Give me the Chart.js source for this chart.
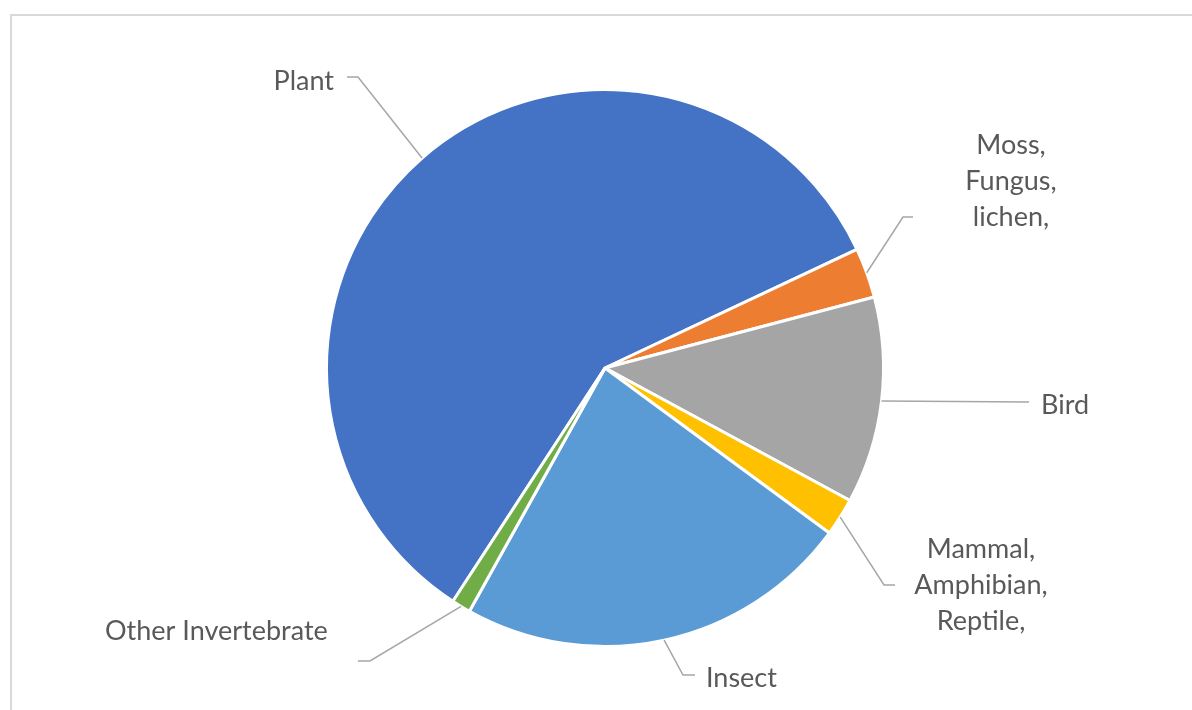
<!DOCTYPE html>
<html>
<head>
<meta charset="utf-8">
<script src="https://cdn.jsdelivr.net/npm/chart.js@4/dist/chart.umd.min.js"></script>
<style>
  html, body { margin: 0; padding: 0; background: #fff; overflow: hidden; }
  .frame {
    position: absolute; left: 10px; top: 14px;
    width: 1300px; height: 800px;
    border: 2px solid #d9d9d9;
  }
  .wrap { position: absolute; left: 0; top: 0; width: 1192px; height: 710px; }
</style>
</head>
<body>
<div class="frame"></div>
<div class="wrap"><canvas id="pie"></canvas></div>
<script>
"use strict";

// categories + values (share of records, %)
const categories = [
  ["Plant"],
  ["Moss,", "Fungus,", "lichen,"],
  ["Bird"],
  ["Mammal,", "Amphibian,", "Reptile,"],
  ["Insect"],
  ["Other Invertebrate"],
];
const values = [58.8, 2.9, 12.0, 2.2, 23.0, 1.1];
const colors = ["#4472C4", "#ED7D31", "#A5A5A5", "#FFC000", "#5B9BD5", "#70AD47"];

// where each label sits (leader elbow, leader end, text anchor)
const labelLayout = [
  { elbow: [358, 77], end: [347, 77], tx: 334, ty: 90, align: "right" },
  { elbow: [903, 217], end: [913, 217], tx: 1011, ty: 154, align: "center" },
  { elbow: [1029, 402], end: [1029, 402], tx: 1041, ty: 414, align: "left" },
  { elbow: [884, 585], end: [895, 585], tx: 981, ty: 558, align: "center" },
  { elbow: [683, 675], end: [695, 675], tx: 706, ty: 687, align: "left" },
  { elbow: [370, 661], end: [358, 661], tx: 105, ty: 640, align: "left" },
];

const leaderLabels = {
  id: "leaderLabels",
  afterDatasetsDraw(chart) {
    const ctx = chart.ctx;
    const arcs = chart.getDatasetMeta(0).data;
    ctx.save();
    arcs.forEach((arc, i) => {
      const lay = labelLayout[i];
      const mid = (arc.startAngle + arc.endAngle) / 2;
      const sx = arc.x + Math.cos(mid) * arc.outerRadius;
      const sy = arc.y + Math.sin(mid) * arc.outerRadius;
      ctx.strokeStyle = "#a6a6a6";
      ctx.lineWidth = 1.5;
      ctx.beginPath();
      ctx.moveTo(sx, sy);
      ctx.lineTo(lay.elbow[0], lay.elbow[1]);
      ctx.lineTo(lay.end[0], lay.end[1]);
      ctx.stroke();

      ctx.fillStyle = "#595959";
      ctx.font = "27px Lato";
      ctx.textAlign = lay.align;
      ctx.textBaseline = "alphabetic";
      categories[i].forEach((line, k) => {
        ctx.fillText(line, lay.tx, lay.ty + k * 36);
      });
    });
    ctx.restore();
  },
};

const ctx = document.getElementById("pie").getContext("2d");
const myPie = new Chart(ctx, {
  type: "pie",
  data: {
    labels: categories.map((c) => c.join(" ")),
    datasets: [
      {
        data: values,
        backgroundColor: colors,
        borderColor: "#ffffff",
        borderWidth: 3,
      },
    ],
  },
  options: {
    responsive: true,
    maintainAspectRatio: false,
    animation: false,
    rotation: 213.1,
    layout: { padding: { top: 88, bottom: 62, left: 325, right: 307 } },
    plugins: {
      legend: { display: false },
      tooltip: { enabled: false },
    },
  },
  plugins: [leaderLabels],
});
</script>
</body>
</html>
